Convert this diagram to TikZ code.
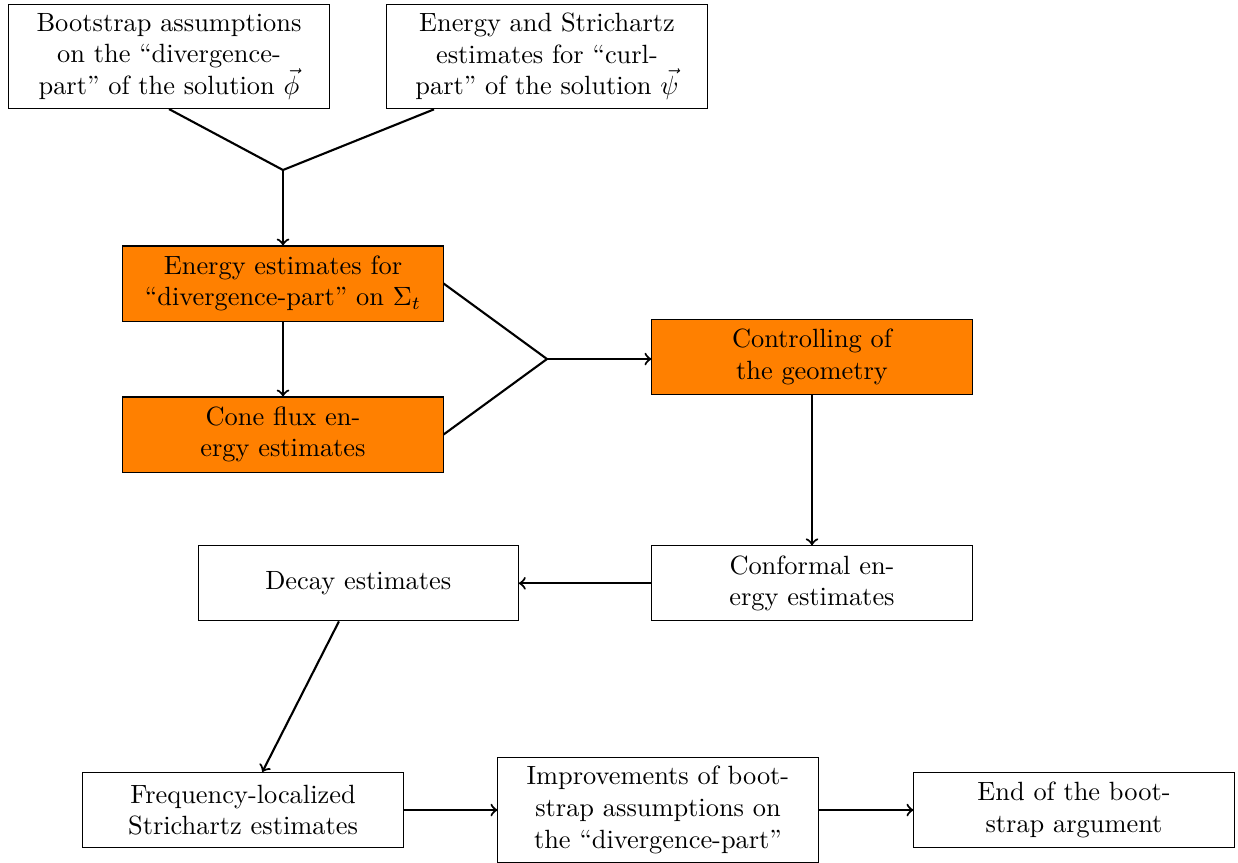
\documentclass[tikz,border=0pt]{standalone}
\usetikzlibrary{calc}
\begin{document}
\begin{tikzpicture}[x=0.379pt,y=-0.379pt,
  box/.style={draw,line width=0.4pt,text width=4.03cm,align=center,minimum height=1cm,inner sep=3.33pt},
  hot/.style={box,fill=orange},
  conn/.style={thick},
  arr/.style={thick,->}]
\useasboundingbox (0,0) rectangle (1238,862);
\node[box] (B1) at (169,56.5) {Bootstrap assumptions\\ on the ``divergence-\\ part'' of the solution $\vec{\phi}$};
\node[box] (B2) at (547,56.5) {Energy and Strichartz\\ estimates for ``curl-\\ part'' of the solution $\vec{\psi}$};
\coordinate (J1) at (283,170);
\coordinate (B2s) at ($(B2.south)+(-113,0)$);
\node[hot] (E1) at (283,283.5) {Energy estimates for\\ ``divergence-part'' on $\Sigma_t$};
\node[hot] (E2) at (283,434.5) {Cone flux en-\\ ergy estimates};
\coordinate (J2) at (547,359);
\node[hot] (C) at (812,356.7) {Controlling of\\ the geometry};
\node[box] (Conf) at (812,583.3) {Conformal en-\\ ergy estimates};
\node[box] (Decay) at (358.3,583.3) {Decay estimates};
\node[box] (Freq) at (243,810) {Frequency-localized\\ Strichartz estimates};
\node[box] (Impr) at (658,810) {Improvements of boot-\\ strap assumptions on\\ the ``divergence-part''};
\node[box] (End) at (1074,810) {End of the boot-\\ strap argument};
\draw[conn] (B1.south) -- (J1) -- (B2s);
\draw[arr] (J1) -- (E1.north);
\draw[arr] (E1) -- (E2);
\draw[conn] (E1.east) -- (J2) -- (E2.east);
\draw[arr] (J2) -- (J2 -| C.west);
\draw[arr] (C) -- (Conf);
\draw[arr] (Conf) -- (Decay);
\draw[arr] (Decay) -- (Freq);
\draw[arr] (Freq) -- (Impr);
\draw[arr] (Impr) -- (End);
\end{tikzpicture}
\end{document}
